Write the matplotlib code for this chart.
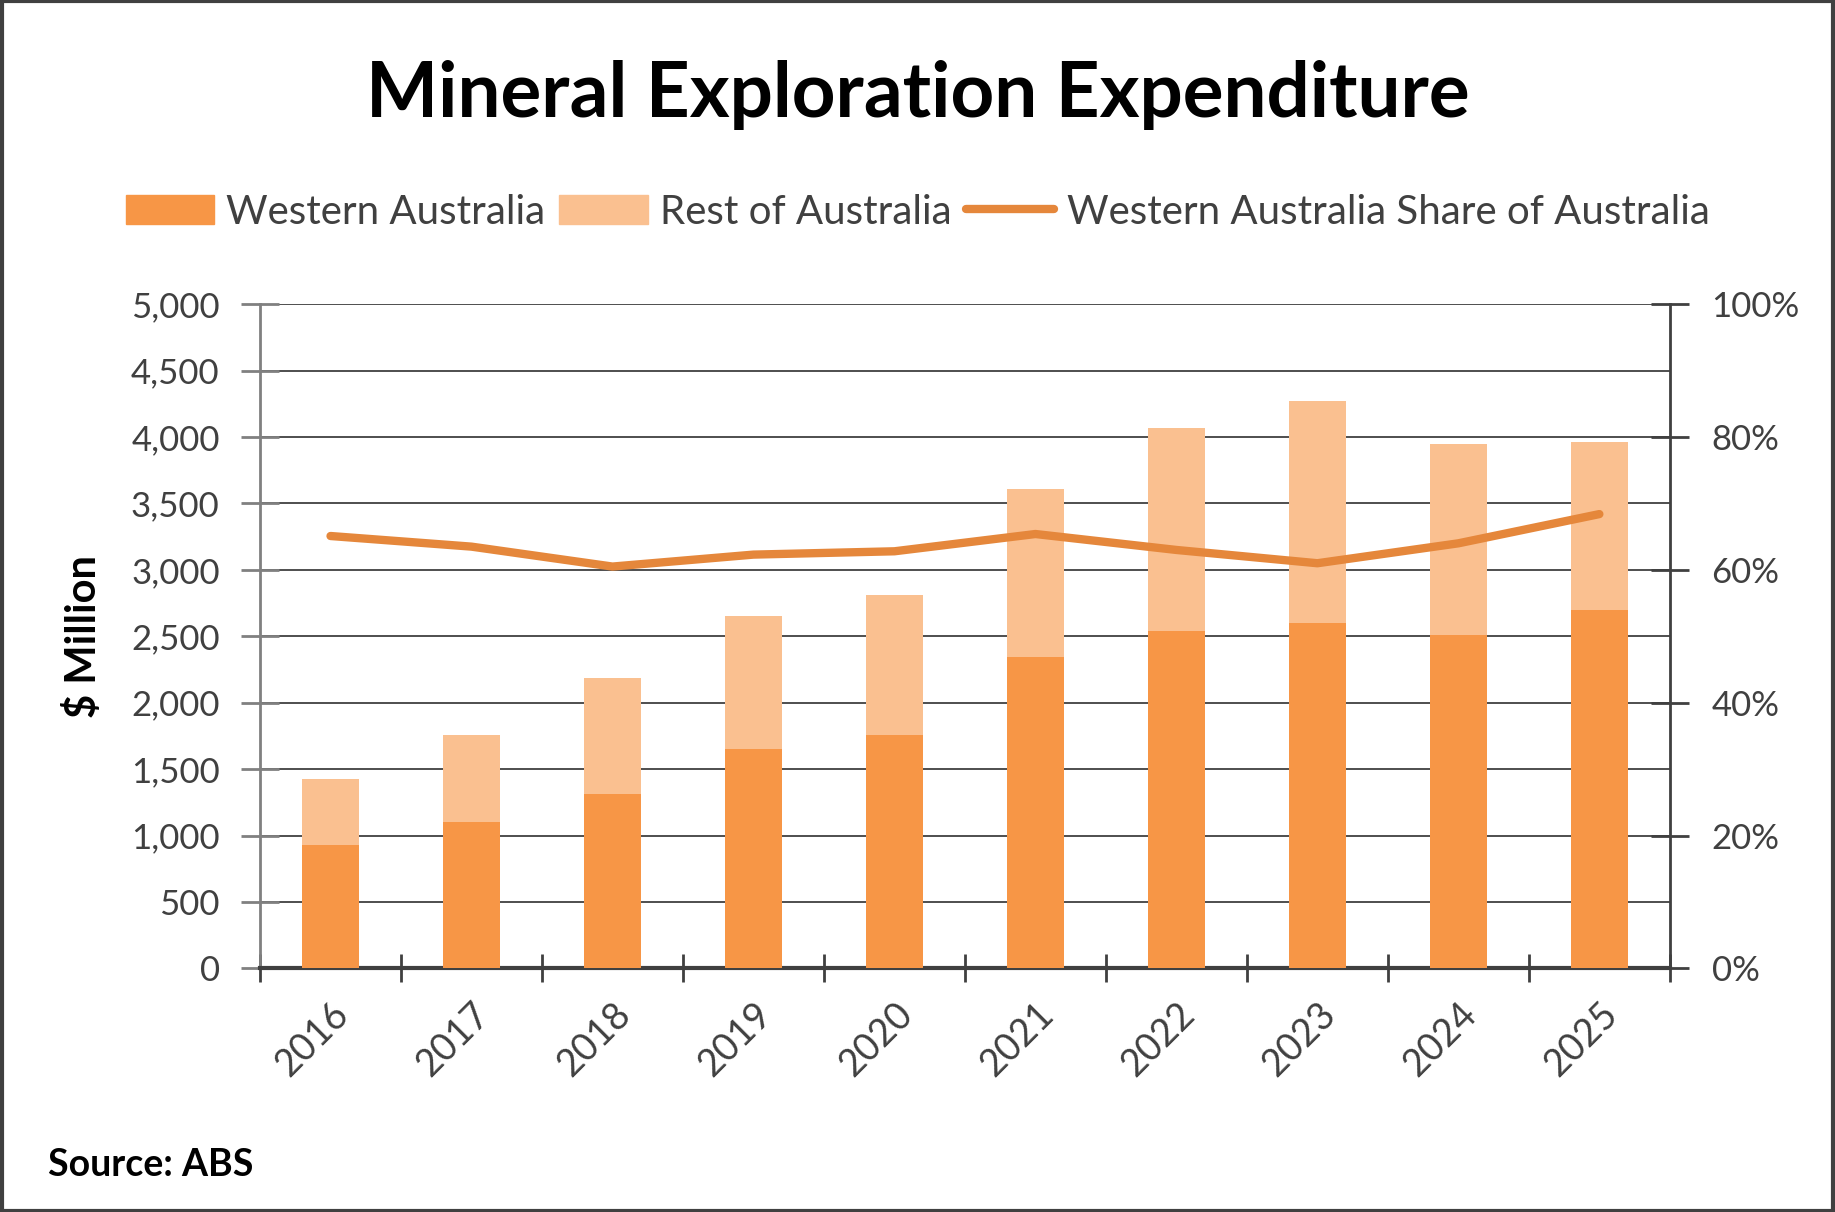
#!/usr/bin/env python3

"""
<file>    plot.py
<brief>   Mineral exploration expenditure, WA vs rest of Australia
"""

import matplotlib.pyplot as plt
from matplotlib.ticker import FuncFormatter, MultipleLocator
from matplotlib.lines import Line2D
from matplotlib.patches import Patch

years = ["2016", "2017", "2018", "2019", "2020", "2021", "2022", "2023", "2024", "2025"]
wa = [926, 1102, 1314, 1649, 1755, 2346, 2540, 2601, 2513, 2698]
total = [1429, 1755, 2187, 2654, 2813, 3607, 4065, 4268, 3951, 3959]
rest = [t - w for t, w in zip(total, wa)]
share = [65.1, 63.5, 60.5, 62.3, 62.8, 65.4, 63.0, 61.0, 64.0, 68.4]

plt.rcParams['font.family'] = ['Lato', 'DejaVu Sans']

c_wa = "#F79646"
c_rest = "#FAC090"
c_line = "#E5873B"
c_text = "#404040"

fig = plt.figure(figsize=(18.35, 12.12), dpi=100)
ax = fig.add_axes([0.1417, 0.201, 0.7683, 0.548])
ax2 = ax.twinx()

x = list(range(len(years)))
ax.bar(x, wa, width=0.4, color=c_wa, zorder=3)
ax.bar(x, rest, width=0.4, bottom=wa, color=c_rest, zorder=3)

ax.set_ylim(0, 5000)
ax.set_xlim(-0.5, len(years) - 0.5)
ax.yaxis.set_major_locator(MultipleLocator(500))
ax.yaxis.set_major_formatter(FuncFormatter(lambda v, p: f"{int(v):,}"))
ax.grid(axis="y", color=c_text, linewidth=1.3, zorder=0)
ax.set_axisbelow(True)

# category boundaries get the tick marks, centres get the labels
ax.set_xticks([i - 0.5 for i in range(len(years) + 1)])
ax.set_xticklabels([])
ax.set_xticks(x, minor=True)
ax.set_xticklabels(years, minor=True, rotation=45, fontsize=27, color=c_text,
                   ha="right", rotation_mode="anchor")
ax.tick_params(axis="x", which="minor", length=0, pad=20)
ax.tick_params(axis="x", which="major", direction="inout", length=20, width=2, color=c_text)
ax.tick_params(axis="y", direction="inout", length=28, width=2, color="#808080",
               labelsize=25, labelcolor=c_text, pad=15)

for s in ["top", "right"]:
    ax.spines[s].set_visible(False)
    ax2.spines[s].set_visible(False)
ax.spines["left"].set_color("#808080")
ax.spines["left"].set_linewidth(2)
ax.spines["bottom"].set_color(c_text)
ax.spines["bottom"].set_linewidth(3)
ax2.spines["left"].set_visible(False)
ax2.spines["bottom"].set_visible(False)
ax2.spines["right"].set_visible(True)
ax2.spines["right"].set_color(c_text)
ax2.spines["right"].set_linewidth(2)

ax2.plot(x, share, color=c_line, linewidth=6, solid_capstyle="round", zorder=4)
ax2.set_ylim(0, 100)
ax2.yaxis.set_major_locator(MultipleLocator(20))
ax2.yaxis.set_major_formatter(FuncFormatter(lambda v, p: f"{int(v)}%"))
ax2.tick_params(axis="y", direction="inout", length=28, width=2, color=c_text,
                labelsize=25, labelcolor=c_text, pad=16)

ax.set_ylabel("$ Million", fontsize=30, fontweight="bold", labelpad=20)

fig.text(0.5, 0.922, "Mineral Exploration Expenditure", ha="center", va="center",
         fontsize=55, fontweight="bold")

handles = [Patch(color=c_wa), Patch(color=c_rest),
           Line2D([], [], color=c_line, linewidth=6, solid_capstyle="round")]
fig.legend(handles, ["Western Australia", "Rest of Australia", "Western Australia Share of Australia"],
           loc="center", bbox_to_anchor=(0.5, 0.825), ncol=3, frameon=False,
           fontsize=29, labelcolor=c_text, handlelength=2.2, handleheight=0.75,
           columnspacing=0.35, handletextpad=0.3)

fig.text(0.026, 0.039, "Source: ABS", fontsize=27, fontweight="bold", va="center")

fig.patches.append(plt.Rectangle((0.001, 0.001), 0.998, 0.998, transform=fig.transFigure,
                                 fill=False, edgecolor=c_text, linewidth=3))

plt.savefig("out.png", dpi=100)
plt.close()
